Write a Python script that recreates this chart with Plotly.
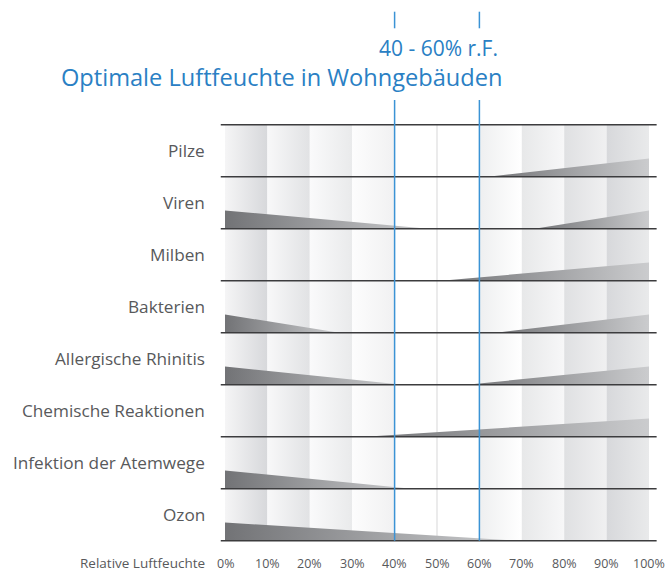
import plotly.graph_objects as go

# ---------------- data ----------------
categories = ["Pilze", "Viren", "Milben", "Bakterien", "Allergische Rhinitis",
              "Chemische Reaktionen", "Infektion der Atemwege", "Ozon"]
# left triangle: risk falling from 0% to given humidity (None = no left triangle)
left_end = [None, 48, None, 27, 42, None, 44, 69]
# right triangle: risk rising from given humidity to 100% (None = none)
right_start = [62, 73, 51, 64, 57, 33, None, None]
tick_values = [0, 10, 20, 30, 40, 50, 60, 70, 80, 90, 100]
tick_labels = ["0%", "10%", "20%", "30%", "40%", "50%", "60%", "70%", "80%", "90%", "100%"]
optimal_range = [40, 60]
title_text = "Optimale Luftfeuchte in Wohngebäuden"
range_text = "40 - 60% r.F."
axis_title = "Relative Luftfeuchte"

# ---------------- styles ----------------
BLUE = "#3b93d5"
BLUE_TXT = "#2a80c4"
GREY_TXT = "#58595b"
LINE = "#3c3c3e"
TRI_DARK = "#727376"
TRI_LIGHT = "#cbccce"
TRI_H = 0.35
band_colors = [("#f5f5f6", "#d7d8db"), ("#f8f8f9", "#e1e2e4"), ("#fafafb", "#e9eaeb"),
               ("#fdfdfd", "#f1f1f2"), ("#ffffff", "#ffffff"), ("#ffffff", "#ffffff"),
               ("#eeeff0", "#ffffff"), ("#e7e8e9", "#f7f7f8"), ("#dfe0e2", "#f0f0f1"),
               ("#d7d8db", "#e9eaeb")]
FONT = "Open Sans"

n = len(categories)
fig = go.Figure()

# background bands
for i in range(len(tick_values) - 1):
    x0, x1 = tick_values[i], tick_values[i + 1]
    c0, c1 = band_colors[i]
    fig.add_trace(go.Scatter(
        x=[x0, x1, x1, x0, x0], y=[0, 0, n, n, 0], mode="none", fill="toself",
        fillgradient=dict(type="horizontal", start=x0, stop=x1,
                          colorscale=[[0, c0], [1, c1]]),
        hoverinfo="skip", showlegend=False))

# thin light line at 50 %
fig.add_trace(go.Scatter(x=[50, 50], y=[0, n], mode="lines",
                         line=dict(color="#e6e6e7", width=1.6),
                         hoverinfo="skip", showlegend=False))

# triangles
for i, cat in enumerate(categories):
    base = i + 1
    if left_end[i] is not None:
        e = left_end[i]
        fig.add_trace(go.Scatter(
            x=[0, e, 0, 0], y=[base, base, base - TRI_H, base], mode="none",
            fill="toself",
            fillgradient=dict(type="horizontal", start=0, stop=e,
                              colorscale=[[0, TRI_DARK], [1, TRI_LIGHT]]),
            hoverinfo="skip", showlegend=False))
    if right_start[i] is not None:
        s = right_start[i]
        fig.add_trace(go.Scatter(
            x=[s, 100, 100, s], y=[base, base, base - TRI_H, base], mode="none",
            fill="toself",
            fillgradient=dict(type="horizontal", start=s, stop=100,
                              colorscale=[[0, TRI_DARK], [1, TRI_LIGHT]]),
            hoverinfo="skip", showlegend=False))

shapes = []
# horizontal row lines
for k in range(n + 1):
    shapes.append(dict(type="line", xref="x", yref="y", x0=-1, x1=101.8, y0=k, y1=k,
                       line=dict(color=LINE, width=1.6), layer="above"))
# blue optimal lines
for v in optimal_range:
    shapes.append(dict(type="line", xref="x", yref="y", x0=v, x1=v, y0=-0.475, y1=n,
                       line=dict(color=BLUE, width=1.5), layer="above"))
    shapes.append(dict(type="line", xref="x", yref="y", x0=v, x1=v, y0=-2.173, y1=-1.854,
                       line=dict(color=BLUE, width=1.5), layer="above"))

annotations = []
for i, cat in enumerate(categories):
    annotations.append(dict(x=-4.2, y=i + 0.5, xref="x", yref="y", text=cat,
                            showarrow=False, xanchor="right", yanchor="middle",
                            font=dict(family=FONT, size=17.2, color=GREY_TXT)))
for v, t in zip(tick_values, tick_labels):
    annotations.append(dict(x=v, y=8.43, xref="x", yref="y", text=t, showarrow=False,
                            xanchor="center", yanchor="middle",
                            font=dict(family=FONT, size=12.5, color=GREY_TXT)))
annotations.append(dict(x=-4.2, y=8.43, xref="x", yref="y", text=axis_title,
                        showarrow=False, xanchor="right", yanchor="middle",
                        font=dict(family=FONT, size=13.5, color=GREY_TXT)))
annotations.append(dict(x=50.3, y=-1.475, xref="x", yref="y", text=range_text,
                        showarrow=False, xanchor="center", yanchor="middle",
                        font=dict(family=FONT, size=21, color=BLUE_TXT)))
annotations.append(dict(x=13.4, y=-0.923, xref="x", yref="y", text=title_text,
                        showarrow=False, xanchor="center", yanchor="middle",
                        font=dict(family=FONT, size=23.6, color=BLUE_TXT)))

fig.update_layout(
    width=668, height=574, margin=dict(l=0, r=0, t=0, b=0),
    paper_bgcolor="white", plot_bgcolor="white",
    xaxis=dict(range=[-53.066, 104.481], visible=False, fixedrange=True),
    yaxis=dict(range=[8.640, -2.398], visible=False, fixedrange=True),
    shapes=shapes, annotations=annotations, showlegend=False,
)

fig.write_html("out.html", config={"displayModeBar": False},
               post_script="document.body.style.margin='0';document.body.style.padding='0';")
